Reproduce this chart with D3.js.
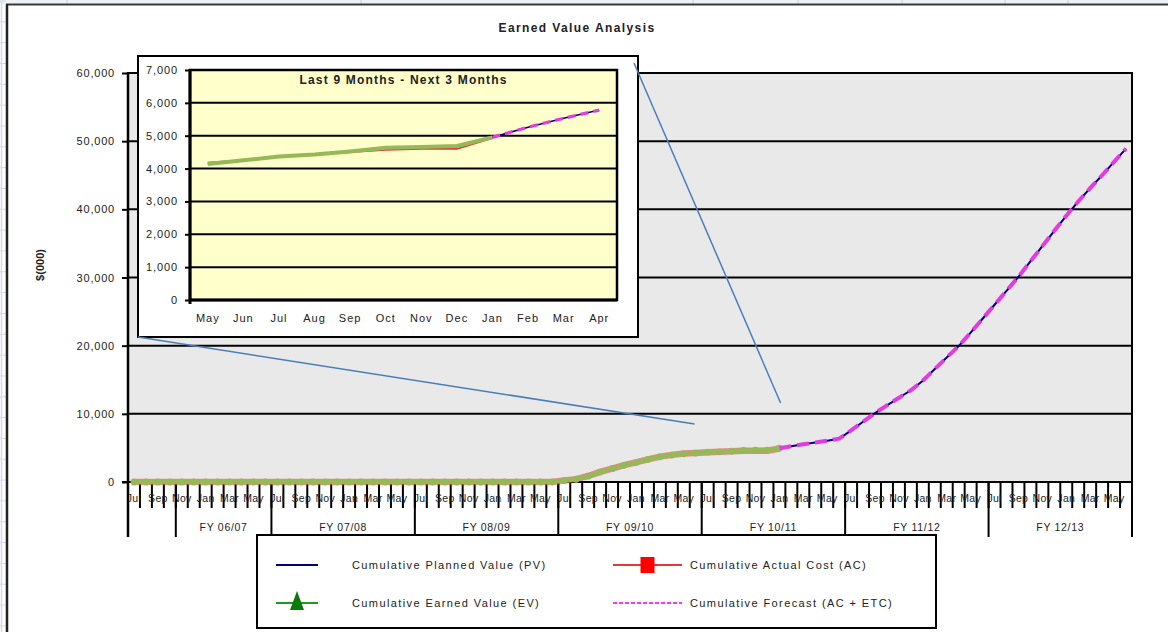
<!DOCTYPE html>
<html>
<head>
<meta charset="utf-8">
<script src="https://cdn.jsdelivr.net/npm/d3@7"></script>
<style>
  html, body { margin: 0; padding: 0; background: #ffffff; }
  svg { display: block; }
  text { font-family: "Liberation Sans", Arial, sans-serif; fill: #222; }
</style>
</head>
<body>
<svg id="chart" width="1168" height="632"></svg>
<script>
// ---- Data -------------------------------------------------------------
const monthNames = ["Jul", "Aug", "Sep", "Oct", "Nov", "Dec", "Jan", "Feb", "Mar", "Apr", "May", "Jun"];
const yearCount = 7;                       // Jul 2006 .. Jun 2013
const fyLabels = ["", "FY 06/07", "FY 07/08", "FY 08/09", "FY 09/10", "FY 10/11", "FY 11/12", "FY 12/13"];
const fyStarts = [0, 4, 12, 24, 36, 48, 60, 72];
const yTicks = [0, 10000, 20000, 30000, 40000, 50000, 60000];

// Cumulative Planned Value, $(000), one value per month from Jul 06
const pvValues = [
  0, 0, 0, 0, 0, 0, 0, 0, 0, 0, 0, 0,
  0, 0, 0, 0, 0, 0, 0, 0, 0, 0, 0, 0,
  0, 0, 0, 0, 0, 0, 0, 0, 0, 0, 0, 0,
  200, 400, 850, 1450, 1950, 2450, 2850, 3300, 3700, 3950, 4140, 4250,
  4370, 4430, 4520, 4630, 4660, 4690, 4950, 5260, 5530, 5780, 6050, 6350,
  7580, 8840, 10100, 11240, 12360, 13460, 14850, 16570, 18270, 19940, 21900, 23950,
  26000, 28050, 30100, 32350, 34600, 36850, 39050, 41150, 43100, 45000, 46970, 48900
];
// Cumulative Actual Cost, Jul 06 .. Jan 11
const acValues = [
  0, 0, 0, 0, 0, 0, 0, 0, 0, 0, 0, 0,
  0, 0, 0, 0, 0, 0, 0, 0, 0, 0, 0, 0,
  0, 0, 0, 0, 0, 0, 0, 0, 0, 0, 0, 0,
  220, 420, 880, 1480, 1980, 2470, 2870, 3320, 3720, 3980, 4180, 4260,
  4370, 4420, 4500, 4570, 4600, 4600, 4920
];
// Cumulative Earned Value, Jul 06 .. Jan 11
const evValues = [
  0, 0, 0, 0, 0, 0, 0, 0, 0, 0, 0, 0,
  0, 0, 0, 0, 0, 0, 0, 0, 0, 0, 0, 0,
  0, 0, 0, 0, 0, 0, 0, 0, 0, 0, 0, 0,
  200, 400, 850, 1450, 1950, 2450, 2850, 3300, 3700, 3950, 4140, 4250,
  4370, 4430, 4520, 4630, 4660, 4690, 4950
];
// Cumulative Forecast (AC + ETC), Jan 11 .. Jun 13
const forecastStart = 54;
const forecastValues = [
  4950, 5260, 5530, 5780, 6050, 6350,
  7580, 8840, 10100, 11240, 12360, 13460, 14850, 16570, 18270, 19940, 21900, 23950,
  26000, 28050, 30100, 32350, 34600, 36850, 39050, 41150, 43100, 45000, 46970, 48900
];

// Zoomed panel: last 9 months and next 3 months (May 10 .. Apr 11)
const insetStart = 46;
const insetMonths = ["May", "Jun", "Jul", "Aug", "Sep", "Oct", "Nov", "Dec", "Jan", "Feb", "Mar", "Apr"];
const insetTicks = [0, 1000, 2000, 3000, 4000, 5000, 6000, 7000];

// Callout anchors in the main chart (month position, value)
const calloutTargets = [{ i: 46.9, v: 8500 }, { i: 54.1, v: 11600 }];

const legendLabels = [
  "Cumulative Planned Value (PV)", "Cumulative Actual Cost (AC)",
  "Cumulative Earned Value (EV)", "Cumulative Forecast (AC + ETC)"
];

// ---- Styles -----------------------------------------------------------
const C = {
  pv: "#000080", ac: "#e8353a", ev: "#94b956", fc: "#e43be0",
  plot: "#e9e9e9", inset: "#ffffcc", callout: "#4a7ebb", sheet: "#d3dbe8"
};

const svg = d3.select("#chart");

// ---- Worksheet backdrop ----------------------------------------------
const sheet = svg.append("g");
sheet.append("rect").attr("x", 0).attr("y", 0).attr("width", 1168).attr("height", 4).attr("fill", "#eef1f6");
sheet.selectAll("line.h").data(d3.range(0, 31)).join("line")
  .attr("x1", 0).attr("x2", 6).attr("y1", d => 1 + d * 20.83).attr("y2", d => 1 + d * 20.83)
  .attr("stroke", C.sheet).attr("stroke-width", 1);
sheet.selectAll("line.v").data([67, 361, 693, 798, 902, 1005, 1068]).join("line")
  .attr("x1", d => d).attr("x2", d => d).attr("y1", 0).attr("y2", 4)
  .attr("stroke", "#c4cedd").attr("stroke-width", 1);
sheet.append("line").attr("x1", 1.5).attr("x2", 1.5).attr("y1", 0).attr("y2", 632)
  .attr("stroke", C.sheet).attr("stroke-width", 1.5);
// chart area frame
sheet.append("line").attr("x1", 6).attr("x2", 1168).attr("y1", 4.5).attr("y2", 4.5)
  .attr("stroke", "#3a3a3a").attr("stroke-width", 2);
sheet.append("line").attr("x1", 7).attr("x2", 7).attr("y1", 4).attr("y2", 632)
  .attr("stroke", "#222").attr("stroke-width", 2.5);

// ---- Main chart -------------------------------------------------------
const M = { left: 128, right: 1132, top: 73, bottom: 482 };
const months = d3.range(yearCount * 12);
const x = d3.scaleBand().domain(months).range([M.left, M.right]).padding(0);
const xc = i => x(i) + x.bandwidth() / 2;
const xEdge = k => M.left + k * x.step();
const y = d3.scaleLinear().domain([0, 60000]).range([M.bottom, M.top]);

const main = svg.append("g");
main.append("rect").attr("x", M.left).attr("y", M.top)
  .attr("width", M.right - M.left).attr("height", M.bottom - M.top).attr("fill", C.plot);

// gridlines
main.selectAll("line.grid").data(yTicks).join("line")
  .attr("x1", M.left).attr("x2", M.right).attr("y1", d => y(d)).attr("y2", d => y(d))
  .attr("stroke", "#000").attr("stroke-width", 2);
main.append("line").attr("x1", M.right).attr("x2", M.right).attr("y1", M.top - 1).attr("y2", 537)
  .attr("stroke", "#000").attr("stroke-width", 2);

// y axis
const yAxis = main.append("g").attr("transform", `translate(${M.left},0)`)
  .call(d3.axisLeft(y).tickValues(yTicks).tickFormat(d3.format(",")).tickSize(6).tickPadding(7));
yAxis.select(".domain").remove();
yAxis.selectAll(".tick line").attr("stroke", "#000").attr("stroke-width", 2);
yAxis.selectAll(".tick text").attr("font-size", 11).attr("letter-spacing", 0.8).attr("fill", "#222");
main.append("line").attr("x1", M.left).attr("x2", M.left).attr("y1", M.top - 1).attr("y2", 537)
  .attr("stroke", "#000").attr("stroke-width", 2.5);

// y axis title
main.append("text").attr("transform", "translate(44,265) rotate(-90)")
  .attr("text-anchor", "middle").attr("font-size", 11).attr("font-weight", "bold").text("$(000)");

// month ticks between categories
main.selectAll("line.mtick").data(d3.range(yearCount * 12 + 1)).join("line")
  .attr("x1", d => xEdge(d)).attr("x2", d => xEdge(d)).attr("y1", M.bottom).attr("y2", 508)
  .attr("stroke", "#000").attr("stroke-width", 2);

// month labels (every second month)
const xAxis = main.append("g").attr("transform", `translate(0,${M.bottom})`)
  .call(d3.axisBottom(x).tickSize(0).tickPadding(0)
    .tickFormat(i => (i % 2 === 0 ? monthNames[i % 12] : "")));
xAxis.select(".domain").remove();
xAxis.selectAll(".tick text").attr("y", 20).attr("dy", 0)
  .attr("font-size", 10.5).attr("letter-spacing", 0.3).attr("fill", "#1a1a1a");

// fiscal-year group row
const fyEdges = fyStarts.concat([yearCount * 12]);
main.selectAll("line.fy").data(fyEdges).join("line")
  .attr("x1", d => xEdge(d)).attr("x2", d => xEdge(d)).attr("y1", M.bottom).attr("y2", 537)
  .attr("stroke", "#000").attr("stroke-width", 2);
main.selectAll("text.fy").data(fyLabels).join("text")
  .attr("x", (d, k) => (xEdge(fyEdges[k]) + xEdge(fyEdges[k + 1])) / 2)
  .attr("y", 531).attr("text-anchor", "middle").attr("font-size", 10.5)
  .attr("letter-spacing", 0.7).text(d => d);

main.append("line").attr("x1", M.left - 6).attr("x2", M.right).attr("y1", M.bottom).attr("y2", M.bottom)
  .attr("stroke", "#000").attr("stroke-width", 2);

// series
const lineMain = d3.line().x(d => xc(d.i)).y(d => y(d.v));
const toPts = (vals, start = 0) => vals.map((v, k) => ({ i: start + k, v }));

main.append("path").datum(toPts(pvValues)).attr("d", lineMain)
  .attr("fill", "none").attr("stroke", C.pv).attr("stroke-width", 2);
main.append("path").datum(toPts(acValues)).attr("d", lineMain)
  .attr("fill", "none").attr("stroke", C.ac).attr("stroke-width", 6.5).attr("stroke-opacity", 0.55);
main.append("path").datum(toPts(evValues)).attr("d", lineMain)
  .attr("fill", "none").attr("stroke", C.ev).attr("stroke-width", 4.5);
main.selectAll("circle.ev").data(toPts(evValues)).join("circle")
  .attr("cx", d => xc(d.i)).attr("cy", d => y(d.v)).attr("r", 3.4).attr("fill", C.ev);
main.append("path").datum(toPts(forecastValues, forecastStart)).attr("d", lineMain)
  .attr("fill", "none").attr("stroke", C.fc).attr("stroke-width", 4).attr("stroke-dasharray", "12,6");

// title
svg.append("text").attr("x", 577).attr("y", 32).attr("text-anchor", "middle")
  .attr("font-size", 12).attr("font-weight", "bold").attr("letter-spacing", 1.4)
  .text("Earned Value Analysis");

// ---- Zoomed panel -----------------------------------------------------
const F = { left: 138, top: 56, right: 638, bottom: 337 };
const I = { left: 190, right: 617, top: 70, bottom: 300 };
const ix = d3.scaleBand().domain(d3.range(insetMonths.length)).range([I.left, I.right]).padding(0);
const ixc = k => ix(k) + ix.bandwidth() / 2;
const iy = d3.scaleLinear().domain([0, 7000]).range([I.bottom, I.top]);

const inset = svg.append("g");
inset.append("rect").attr("x", F.left).attr("y", F.top)
  .attr("width", F.right - F.left).attr("height", F.bottom - F.top)
  .attr("fill", "#fff").attr("stroke", "#000").attr("stroke-width", 2);
inset.append("rect").attr("x", I.left).attr("y", I.top)
  .attr("width", I.right - I.left).attr("height", I.bottom - I.top)
  .attr("fill", C.inset).attr("stroke", "#000").attr("stroke-width", 2.5);
inset.selectAll("line.grid").data(insetTicks).join("line")
  .attr("x1", I.left).attr("x2", I.right).attr("y1", d => iy(d)).attr("y2", d => iy(d))
  .attr("stroke", "#000").attr("stroke-width", 2);

const iyAxis = inset.append("g").attr("transform", `translate(${I.left},0)`)
  .call(d3.axisLeft(iy).tickValues(insetTicks).tickFormat(d3.format(",")).tickSize(5).tickPadding(7));
iyAxis.select(".domain").remove();
iyAxis.selectAll(".tick line").attr("stroke", "#000").attr("stroke-width", 2);
iyAxis.selectAll(".tick text").attr("font-size", 11).attr("letter-spacing", 0.9).attr("fill", "#222");

const ixAxis = inset.append("g").attr("transform", `translate(0,${I.bottom})`)
  .call(d3.axisBottom(ix).tickSize(0).tickPadding(0).tickFormat(k => insetMonths[k]));
ixAxis.select(".domain").remove();
ixAxis.selectAll(".tick text").attr("y", 22).attr("dy", 0)
  .attr("font-size", 11).attr("letter-spacing", 1).attr("fill", "#222");
inset.append("line").attr("x1", I.left).attr("x2", I.left).attr("y1", I.top - 1).attr("y2", I.bottom + 4)
  .attr("stroke", "#000").attr("stroke-width", 3);
inset.append("line").attr("x1", I.left).attr("x2", I.right).attr("y1", I.bottom).attr("y2", I.bottom)
  .attr("stroke", "#000").attr("stroke-width", 3);

const lineInset = d3.line().x(d => ixc(d.i - insetStart)).y(d => iy(d.v));
const inWindow = pts => pts.filter(d => d.i >= insetStart && d.i < insetStart + insetMonths.length);

inset.append("path").datum(inWindow(toPts(pvValues))).attr("d", lineInset)
  .attr("fill", "none").attr("stroke", C.pv).attr("stroke-width", 1.6);
inset.append("path").datum(inWindow(toPts(acValues))).attr("d", lineInset)
  .attr("fill", "none").attr("stroke", C.ac).attr("stroke-width", 1.6);
inset.append("path").datum(inWindow(toPts(evValues))).attr("d", lineInset)
  .attr("fill", "none").attr("stroke", C.ev).attr("stroke-width", 4);
inset.append("path").datum(inWindow(toPts(forecastValues, forecastStart))).attr("d", lineInset)
  .attr("fill", "none").attr("stroke", C.fc).attr("stroke-width", 3.2).attr("stroke-dasharray", "8,5");

inset.append("text").attr("x", (I.left + I.right) / 2).attr("y", 84).attr("text-anchor", "middle")
  .attr("font-size", 12).attr("font-weight", "bold").attr("letter-spacing", 1.2)
  .text("Last 9 Months - Next 3 Months");

// callout lines from the panel to the period it magnifies
const calloutStarts = [[F.left, F.bottom], [F.right - 4, F.top + 7]];
svg.selectAll("line.callout").data(calloutTargets).join("line")
  .attr("x1", (d, k) => calloutStarts[k][0]).attr("y1", (d, k) => calloutStarts[k][1])
  .attr("x2", d => M.left + (d.i + 0.5) * x.step()).attr("y2", d => y(d.v))
  .attr("stroke", C.callout).attr("stroke-width", 1.5);

// ---- Legend -----------------------------------------------------------
const L = svg.append("g");
L.append("rect").attr("x", 257).attr("y", 535).attr("width", 679).attr("height", 93)
  .attr("fill", "#fff").attr("stroke", "#000").attr("stroke-width", 2);
const legendItems = [
  { col: 0, row: 0, color: C.pv, dash: null, marker: null },
  { col: 1, row: 0, color: C.ac, dash: null, marker: "square" },
  { col: 0, row: 1, color: "#1f9a1f", dash: null, marker: "triangle" },
  { col: 1, row: 1, color: "#ff33ff", dash: "4,2", marker: null }
];
const colX = [[276, 318, 352], [613, 682, 690]];
const rowY = [565, 603];
legendItems.forEach((it, k) => {
  const [x1, x2, tx] = colX[it.col];
  const yy = rowY[it.row];
  L.append("line").attr("x1", x1).attr("x2", x2).attr("y1", yy).attr("y2", yy)
    .attr("stroke", it.color).attr("stroke-width", 2).attr("stroke-dasharray", it.dash);
  const mx = (x1 + x2) / 2;
  if (it.marker === "square") {
    L.append("rect").attr("x", mx - 7).attr("y", yy - 8).attr("width", 14).attr("height", 16).attr("fill", "#ff0000");
  } else if (it.marker === "triangle") {
    L.append("path").attr("d", `M${mx},${yy - 12}L${mx + 7},${yy + 7}L${mx - 7},${yy + 7}Z`).attr("fill", "#0a7a0a");
  }
  L.append("text").attr("x", tx).attr("y", yy + 4).attr("font-size", 11).attr("letter-spacing", 1.4)
    .text(legendLabels[k]);
});
</script>
</body>
</html>
